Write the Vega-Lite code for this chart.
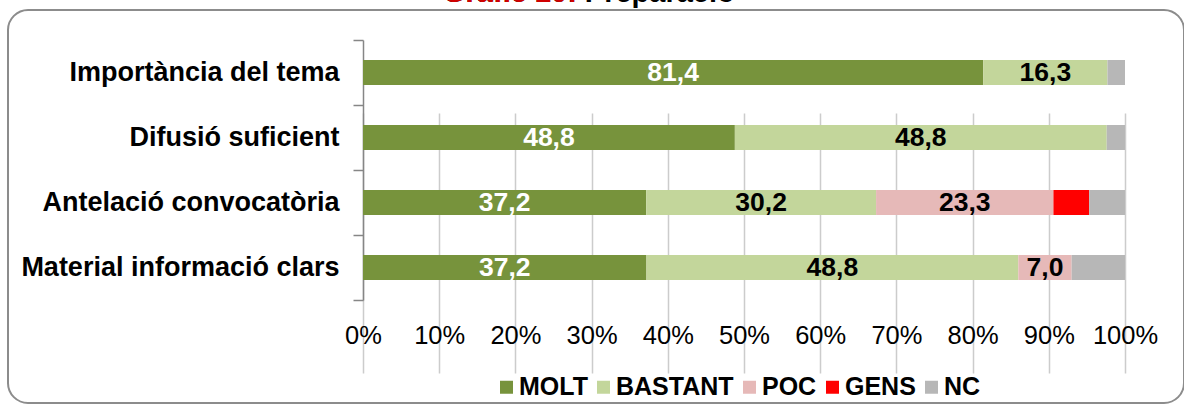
{
  "$schema": "https://vega.github.io/schema/vega-lite/v6.json",
  "width": 1176,
  "height": 393,
  "autosize": {"type": "none"},
  "padding": {"left": 8, "top": 10, "right": 0, "bottom": 9},
  "background": "white",
  "title": {
    "text": "Gràfic 10: Preparació",
    "subtitle": "Gràfic 10:",
    "frame": "group",
    "anchor": "middle",
    "align": "left",
    "dx": -153,
    "offset": -12,
    "font": "Liberation Sans",
    "fontSize": 29,
    "fontWeight": "bold",
    "color": "#000000",
    "subtitleFont": "Liberation Sans",
    "subtitleFontSize": 29,
    "subtitleFontWeight": "bold",
    "subtitleColor": "#D00000",
    "subtitlePadding": -29
  },
  "data": {
    "values": [
      {"item": "Importància del tema", "cat": "MOLT", "ord": 1, "value": 81.4},
      {"item": "Importància del tema", "cat": "BASTANT", "ord": 2, "value": 16.3},
      {"item": "Importància del tema", "cat": "NC", "ord": 5, "value": 2.3},
      {"item": "Difusió suficient", "cat": "MOLT", "ord": 1, "value": 48.8},
      {"item": "Difusió suficient", "cat": "BASTANT", "ord": 2, "value": 48.8},
      {"item": "Difusió suficient", "cat": "NC", "ord": 5, "value": 2.4},
      {"item": "Antelació convocatòria", "cat": "MOLT", "ord": 1, "value": 37.2},
      {"item": "Antelació convocatòria", "cat": "BASTANT", "ord": 2, "value": 30.2},
      {"item": "Antelació convocatòria", "cat": "POC", "ord": 3, "value": 23.3},
      {"item": "Antelació convocatòria", "cat": "GENS", "ord": 4, "value": 4.7},
      {"item": "Antelació convocatòria", "cat": "NC", "ord": 5, "value": 4.7},
      {"item": "Material informació clars", "cat": "MOLT", "ord": 1, "value": 37.2},
      {"item": "Material informació clars", "cat": "BASTANT", "ord": 2, "value": 48.8},
      {"item": "Material informació clars", "cat": "POC", "ord": 3, "value": 7.0},
      {"item": "Material informació clars", "cat": "NC", "ord": 5, "value": 7.0}
    ]
  },
  "encoding": {
    "y": {
      "field": "item",
      "type": "nominal",
      "sort": ["Importància del tema", "Difusió suficient", "Antelació convocatòria", "Material informació clars"],
      "scale": {"range": [30, 290], "paddingInner": 0, "paddingOuter": 0},
      "axis": {
        "title": null,
        "orient": "left",
        "offset": -355,
        "grid": false,
        "domain": true,
        "domainColor": "#868686",
        "domainWidth": 1.5,
        "tickColor": "#868686",
        "tickWidth": 1.5,
        "tickSize": 10,
        "tickBand": "extent",
        "labelFont": "Liberation Sans",
        "labelFontSize": 27,
        "labelFontWeight": "bold",
        "labelColor": "#000000",
        "labelPadding": 14,
        "labelLimit": 600
      }
    }
  },
  "layer": [
    {
      "mark": {"type": "bar", "strokeWidth": 0, "height": {"band": 0.385}},
      "encoding": {
        "x": {
          "field": "value",
          "type": "quantitative",
          "stack": "normalize",
          "scale": {"domain": [0, 1], "range": [355, 1117], "nice": false},
          "axis": {
            "title": null,
            "orient": "bottom",
            "offset": -103,
            "domain": false,
            "ticks": false,
            "grid": true,
            "gridColor": "#cccccc",
            "gridWidth": 1.5,
            "values": [0, 0.1, 0.2, 0.3, 0.4, 0.5, 0.6, 0.7, 0.8, 0.9, 1],
            "format": ".0%",
            "labelFlush": false,
            "labelOverlap": false,
            "labelFont": "Liberation Sans",
            "labelFontSize": 25.5,
            "labelColor": "#000000",
            "labelBaseline": "alphabetic",
            "labelPadding": 43
          }
        },
        "color": {
          "field": "cat",
          "type": "nominal",
          "scale": {
            "domain": ["MOLT", "BASTANT", "POC", "GENS", "NC"],
            "range": ["#77933C", "#C3D69B", "#E6B9B8", "#FF0000", "#B7B7B7"]
          },
          "legend": {
            "title": null,
            "orient": "none",
            "legendX": 486,
            "legendY": 364.5,
            "direction": "horizontal",
            "symbolType": "square",
            "symbolSize": 169,
            "symbolStrokeWidth": 0,
            "symbolOpacity": 1,
            "labelFont": "Liberation Sans",
            "labelFontSize": 25,
            "labelFontWeight": "bold",
            "labelColor": "#000000",
            "labelOffset": 0,
            "columnPadding": 3,
            "padding": 0,
            "labelLimit": 300
          }
        },
        "order": {"field": "ord", "type": "quantitative"}
      }
    },
    {
      "mark": {"type": "text", "font": "Liberation Sans", "fontSize": 26.5, "fontWeight": "bold", "baseline": "middle", "align": "center"},
      "encoding": {
        "x": {"field": "value", "type": "quantitative", "stack": "normalize", "bandPosition": 0.5},
        "detail": {"field": "cat", "type": "nominal"},
        "order": {"field": "ord", "type": "quantitative"},
        "text": {
          "condition": {"test": "datum.cat === 'GENS' || datum.cat === 'NC'", "value": ""},
          "field": "value",
          "type": "quantitative",
          "format": ".1f"
        },
        "color": {
          "condition": {"test": "datum.cat === 'MOLT'", "value": "#ffffff"},
          "value": "#000000"
        }
      }
    }
  ],
  "config": {
    "locale": {
      "number": {"decimal": ",", "thousands": ".", "grouping": [3], "currency": ["", " €"]}
    },
    "font": "Liberation Sans",
    "view": {"stroke": "#8c8c8c", "strokeWidth": 2, "cornerRadius": 20, "fill": "white"}
  }
}
